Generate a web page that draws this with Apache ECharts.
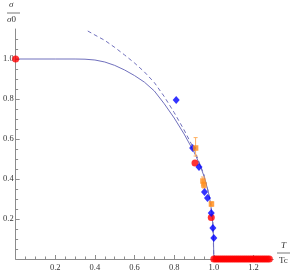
<!DOCTYPE html>
<html>
<head>
<meta charset="utf-8">
<script src="https://cdn.jsdelivr.net/npm/echarts@6/dist/echarts.min.js"></script>
<style>
html,body{margin:0;padding:0;background:#fff;}
#c{width:291px;height:273px;}
</style>
</head>
<body>
<div id="c"></div>
<script>
// ---- data ----
const solidT = [0, 0.20, 0.30, 0.35, 0.40, 0.45, 0.50, 0.55, 0.60, 0.65, 0.70, 0.75, 0.80, 0.85, 0.90, 0.93, 0.95, 0.97, 0.98, 0.99, 0.995, 0.998, 1.0];
const solidY = [1.0, 1.0, 1.0, 0.999, 0.995, 0.985, 0.968, 0.945, 0.917, 0.884, 0.84, 0.776, 0.705, 0.625, 0.535, 0.47, 0.415, 0.345, 0.298, 0.232, 0.172, 0.112, 0.0];
const dashT = [0.364, 0.40, 0.45, 0.50, 0.55, 0.60, 0.65, 0.70, 0.75, 0.80, 0.85, 0.90, 0.95, 0.98, 0.995, 1.0];
const dashY = [1.14, 1.12, 1.093, 1.058, 1.02, 0.98, 0.935, 0.882, 0.812, 0.732, 0.645, 0.55, 0.422, 0.302, 0.182, 0.0];
const redT = [0.0, 0.905, 0.987];
const redY = [1.0, 0.48, 0.207];
const redAxisT = [1.00, 1.01, 1.02, 1.03, 1.04, 1.05, 1.06, 1.07, 1.08, 1.09, 1.10, 1.11, 1.12, 1.13, 1.14, 1.15, 1.16, 1.17, 1.18, 1.19, 1.20, 1.21, 1.22, 1.23, 1.24, 1.25, 1.26, 1.27, 1.28];
const redAxisY = [0, 0, 0, 0, 0, 0, 0, 0, 0, 0, 0, 0, 0, 0, 0, 0, 0, 0, 0, 0, 0, 0, 0, 0, 0, 0, 0, 0, 0];
const blueT = [0.81, 0.893, 0.925, 0.953, 0.968, 0.987, 0.995, 1.0];
const blueY = [0.795, 0.555, 0.46, 0.335, 0.305, 0.23, 0.155, 0.105];
const orangeT = [0.908, 0.945, 0.95, 0.988];
const orangeY = [0.555, 0.39, 0.37, 0.275];
const orangeLo = [0.515, 0.37, 0.355, 0.265];
const orangeHi = [0.607, 0.41, 0.385, 0.285];
const xLabels = [0.2, 0.4, 0.6, 0.8, 1.0, 1.2];
const yLabels = [0.2, 0.4, 0.6, 0.8, 1.0];
const xMinor = [0.05, 0.1, 0.15, 0.25, 0.3, 0.35, 0.45, 0.5, 0.55, 0.65, 0.7, 0.75, 0.85, 0.9, 0.95, 1.05, 1.1, 1.15, 1.25];
const yMinor = [0.05, 0.1, 0.15, 0.25, 0.3, 0.35, 0.45, 0.5, 0.55, 0.65, 0.7, 0.75, 0.85, 0.9, 0.95, 1.05, 1.1];

const zip = (a, b) => a.map((v, i) => [v, b[i]]);

const axisColor = '#8c8c8c';
const labelStyle = { color: '#333', fontFamily: 'Liberation Serif', fontSize: 8.5 };
const lineColor = '#7070bd';

const chart = echarts.init(document.getElementById('c'), null, { renderer: 'canvas' });
chart.setOption({
  animation: false,
  backgroundColor: '#fff',
  grid: { left: 13.3, right: 17.7, top: 29, bottom: 14, containLabel: false },
  xAxis: [
    {
      type: 'value', min: 0, max: 1.3, position: 'bottom',
      axisLine: { show: true, onZero: false, lineStyle: { color: axisColor, width: 1 } },
      axisTick: { show: true, inside: true, length: 2.5, customValues: xMinor, lineStyle: { color: axisColor } },
      axisLabel: { show: true, customValues: xLabels, margin: 4, formatter: v => v.toFixed(1), ...labelStyle },
      splitLine: { show: false }
    },
    {
      type: 'value', min: 0, max: 1.3, position: 'bottom',
      axisLine: { show: false, onZero: false },
      axisTick: { show: true, inside: true, length: 4, customValues: xLabels, lineStyle: { color: axisColor } },
      axisLabel: { show: false },
      splitLine: { show: false }
    }
  ],
  yAxis: [
    {
      type: 'value', min: 0, max: 1.15, position: 'left',
      axisLine: { show: true, onZero: false, lineStyle: { color: axisColor, width: 1 } },
      axisTick: { show: true, inside: true, length: 2.5, customValues: yMinor, lineStyle: { color: axisColor } },
      axisLabel: { show: true, customValues: yLabels, margin: 2, formatter: v => v.toFixed(1), ...labelStyle },
      splitLine: { show: false }
    },
    {
      type: 'value', min: 0, max: 1.15, position: 'left',
      axisLine: { show: false, onZero: false },
      axisTick: { show: true, inside: true, length: 4, customValues: yLabels, lineStyle: { color: axisColor } },
      axisLabel: { show: false },
      splitLine: { show: false }
    }
  ],
  series: [
    {
      type: 'line', data: zip(dashT, dashY), showSymbol: false, smooth: false,
      lineStyle: { color: lineColor, width: 1, type: [4, 3] }, clip: false, z: 2
    },
    {
      type: 'line', data: zip(solidT, solidY), showSymbol: false, smooth: false,
      lineStyle: { color: lineColor, width: 1 }, clip: false, z: 2
    },
    {
      type: 'scatter', data: zip(redAxisT, redAxisY), symbol: 'circle', symbolSize: 7,
      itemStyle: { color: '#ff0000' }, clip: false, z: 3
    },
    {
      type: 'scatter', data: zip(redT, redY), symbol: 'circle', symbolSize: 7,
      itemStyle: { color: '#ff0000' }, clip: false, z: 3
    },
    {
      type: 'custom', clip: false, z: 4,
      data: orangeT.map((t, i) => [t, orangeLo[i], orangeHi[i]]),
      renderItem: function (params, api) {
        const lo = api.coord([api.value(0), api.value(1)]);
        const hi = api.coord([api.value(0), api.value(2)]);
        const st = { stroke: '#ffb060', lineWidth: 1 };
        return {
          type: 'group', children: [
            { type: 'line', shape: { x1: lo[0], y1: lo[1], x2: hi[0], y2: hi[1] }, style: st },
            { type: 'line', shape: { x1: lo[0] - 2, y1: lo[1], x2: lo[0] + 2, y2: lo[1] }, style: st },
            { type: 'line', shape: { x1: hi[0] - 2, y1: hi[1], x2: hi[0] + 2, y2: hi[1] }, style: st }
          ]
        };
      }
    },
    {
      type: 'scatter', data: zip(blueT, blueY), symbol: 'diamond', symbolSize: [7, 8],
      itemStyle: { color: '#0000ff' }, clip: false, z: 5
    },
    {
      type: 'scatter', data: zip(orangeT, orangeY), symbol: 'rect', symbolSize: 5.5,
      itemStyle: { color: '#ff8c1a' }, clip: false, z: 6
    }
  ],
  graphic: [
    { type: 'text', left: 9, top: 0, style: { text: 'σ', font: 'italic 9px "Liberation Serif"', fill: '#333' } },
    { type: 'line', shape: { x1: 7, y1: 13, x2: 20, y2: 13 }, style: { stroke: '#555', lineWidth: 0.8 } },
    { type: 'text', left: 7, top: 15, style: { text: '{i|σ}0', font: '9px "Liberation Serif"', fill: '#333', rich: { i: { font: 'italic 9px "Liberation Serif"', fill: '#333' } } } },
    { type: 'text', left: 281, top: 241, style: { text: 'T', font: 'italic 9px "Liberation Serif"', fill: '#333' } },
    { type: 'line', shape: { x1: 277, y1: 253, x2: 290, y2: 253 }, style: { stroke: '#555', lineWidth: 0.8 } },
    { type: 'text', left: 279, top: 256, style: { text: 'Tc', font: '9px "Liberation Serif"', fill: '#333' } }
  ]
});
</script>
</body>
</html>
